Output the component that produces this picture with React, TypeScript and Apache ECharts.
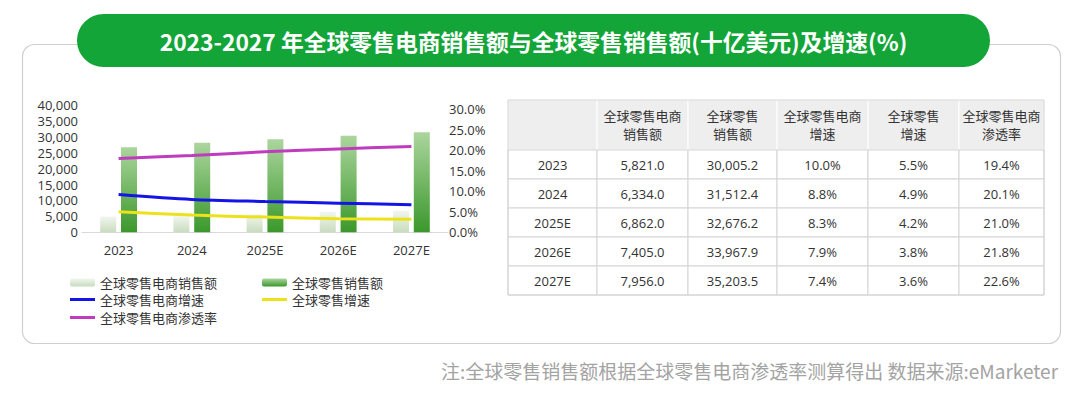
import React, { useEffect, useRef } from "react";
import * as echarts from "echarts";

// ---- data ----
const years = ["2023", "2024", "2025E", "2026E", "2027E"];
// values as drawn in the chart
const ecomSalesBar = [4900, 5100, 5650, 6450, 6800];
const retailSalesBar = [26700, 28150, 29200, 30350, 31400];
const ecomGrowthLine = [9.2, 8.0, 7.5, 7.1, 6.7];
const retailGrowthLine = [5.0, 4.2, 3.7, 3.3, 3.2];
const penetrationLine = [18.0, 18.7, 19.6, 20.3, 20.9];
// tick values
const leftTicks = [0, 5000, 10000, 15000, 20000, 25000, 30000, 35000, 40000];
const rightTicks = [0, 5, 10, 15, 20, 25, 30];
// table
const tableHeaders = [
  "全球零售电商\n销售额",
  "全球零售\n销售额",
  "全球零售电商\n增速",
  "全球零售\n增速",
  "全球零售电商\n渗透率",
];
const ecomSalesTbl = ["5,821.0", "6,334.0", "6,862.0", "7,405.0", "7,956.0"];
const retailSalesTbl = ["30,005.2", "31,512.4", "32,676.2", "33,967.9", "35,203.5"];
const ecomGrowthTbl = ["10.0%", "8.8%", "8.3%", "7.9%", "7.4%"];
const retailGrowthTbl = ["5.5%", "4.9%", "4.2%", "3.8%", "3.6%"];
const penetrationTbl = ["19.4%", "20.1%", "21.0%", "21.8%", "22.6%"];

const seriesNames = [
  "全球零售电商销售额",
  "全球零售销售额",
  "全球零售电商增速",
  "全球零售增速",
  "全球零售电商渗透率",
];
const title = "2023-2027 年全球零售电商销售额与全球零售销售额(十亿美元)及增速(%)";
const footnote = "注:全球零售销售额根据全球零售电商渗透率测算得出 数据来源:eMarketer";

const FONT = '"Open Sans", "Noto Sans CJK SC", sans-serif';
const CJK = '"Noto Sans CJK SC", sans-serif';

function buildTable(): any[] {
  const colX = [508, 597, 688, 777, 868, 959, 1044];
  const rowY = [100, 150, 179, 208, 237, 266, 295];
  const cols = [years, ecomSalesTbl, retailSalesTbl, ecomGrowthTbl, retailGrowthTbl, penetrationTbl];
  const els: any[] = [];
  for (let r = 0; r < rowY.length - 1; r++) {
    for (let c = 0; c < colX.length - 1; c++) {
      const x = colX[c], y = rowY[r], w = colX[c + 1] - colX[c], h = rowY[r + 1] - rowY[r];
      els.push({
        type: "rect",
        shape: { x, y, width: w, height: h },
        style: { fill: r === 0 ? "#eeeeee" : "#ffffff", stroke: r === 0 ? "#ffffff" : "#d4d4d4", lineWidth: 1 },
        z: 1,
      });
      let txt = "";
      if (r === 0) txt = c === 0 ? "" : tableHeaders[c - 1];
      else txt = cols[c][r - 1];
      if (txt) {
        els.push({
          type: "text",
          x: x + w / 2,
          y: y + h / 2,
          style: {
            text: txt,
            fill: "#333333",
            font: `13px ${FONT}`,
            align: "center",
            verticalAlign: "middle",
            lineHeight: 18,
          },
          z: 2,
        });
      }
    }
  }
  els.push({
    type: "rect",
    shape: { x: colX[0], y: rowY[0], width: colX[6] - colX[0], height: rowY[6] - rowY[0] },
    style: { fill: "none", stroke: "#d4d4d4", lineWidth: 1 },
    z: 3,
  });
  return els;
}

export default function App() {
  const ref = useRef<HTMLDivElement>(null);
  useEffect(() => {
    if (!ref.current) return;
    const chart = echarts.init(ref.current, null, { renderer: "svg" });
    const lightGrad = new echarts.graphic.LinearGradient(0, 0, 0, 1, [
      { offset: 0, color: "#f1f6ee" },
      { offset: 1, color: "#c8dcbe" },
    ]);
    const darkGrad = new echarts.graphic.LinearGradient(0, 0, 0, 1, [
      { offset: 0, color: "#abd59d" },
      { offset: 1, color: "#3b982c" },
    ]);
    const legendBase = {
      itemWidth: 25,
      textStyle: { fontSize: 13, color: "#333", fontFamily: CJK },
      selectedMode: false,
      padding: 0,
      itemGap: 0,
    };
    const option: any = {
      animation: false,
      backgroundColor: "#ffffff",
      textStyle: { fontFamily: FONT },
      grid: { left: 82, right: 632, top: 105, bottom: 397 - 232.3, containLabel: false },
      xAxis: {
        type: "category",
        data: years,
        axisLine: { lineStyle: { color: "#d9d9d9", width: 1 } },
        axisTick: { show: false },
        axisLabel: { color: "#333", fontSize: 13, margin: 11, fontFamily: FONT },
      },
      yAxis: [
        {
          type: "value",
          min: leftTicks[0],
          max: leftTicks[leftTicks.length - 1],
          interval: leftTicks[1] - leftTicks[0],
          splitLine: { show: false },
          axisLine: { show: false },
          axisTick: { show: false },
          axisLabel: {
            color: "#333",
            fontSize: 13,
            margin: 4,
            fontFamily: FONT,
            formatter: (v: number) => v.toLocaleString("en-US"),
          },
        },
        {
          type: "value",
          min: rightTicks[0],
          max: 31,
          interval: rightTicks[1] - rightTicks[0],
          splitLine: { show: false },
          axisLine: { show: false },
          axisTick: { show: false },
          axisLabel: {
            color: "#333",
            fontSize: 13,
            margin: 1,
            fontFamily: FONT,
            showMaxLabel: false,
            formatter: (v: number) => (rightTicks.indexOf(v) >= 0 ? v.toFixed(1) + "%" : ""),
          },
        },
      ],
      legend: [
        { ...legendBase, left: 70, top: 276, itemHeight: 8, data: [seriesNames[0]] },
        { ...legendBase, left: 262, top: 276, itemHeight: 8, data: [seriesNames[1]] },
        { ...legendBase, left: 70, top: 293, itemHeight: 3, icon: "rect", data: [seriesNames[2]] },
        { ...legendBase, left: 262, top: 293, itemHeight: 3, icon: "rect", data: [seriesNames[3]] },
        { ...legendBase, left: 70, top: 311, itemHeight: 3, icon: "rect", data: [seriesNames[4]] },
      ],
      series: [
        {
          name: seriesNames[0],
          type: "bar",
          yAxisIndex: 0,
          data: ecomSalesBar,
          barWidth: 16,
          barGap: "30%",
          itemStyle: { color: lightGrad },
        },
        {
          name: seriesNames[1],
          type: "bar",
          yAxisIndex: 0,
          data: retailSalesBar,
          barWidth: 16,
          barGap: "30%",
          itemStyle: { color: darkGrad },
        },
        {
          name: seriesNames[2],
          type: "line",
          yAxisIndex: 1,
          data: ecomGrowthLine,
          smooth: 0.3,
          symbol: "none",
          lineStyle: { color: "#1414e6", width: 3 },
          itemStyle: { color: "#1414e6" },
        },
        {
          name: seriesNames[3],
          type: "line",
          yAxisIndex: 1,
          data: retailGrowthLine,
          smooth: 0.3,
          symbol: "none",
          lineStyle: { color: "#ece21c", width: 3 },
          itemStyle: { color: "#ece21c" },
        },
        {
          name: seriesNames[4],
          type: "line",
          yAxisIndex: 1,
          data: penetrationLine,
          smooth: 0.3,
          symbol: "none",
          lineStyle: { color: "#c03cbe", width: 3 },
          itemStyle: { color: "#c03cbe" },
        },
      ],
      graphic: [
        {
          type: "rect",
          z: -10,
          silent: true,
          shape: { x: 22.5, y: 44.5, width: 1038, height: 299, r: 12 },
          style: { fill: "#ffffff", stroke: "#cfcfcf", lineWidth: 1.2 },
        },
        {
          type: "rect",
          z: 5,
          shape: { x: 77, y: 14, width: 913, height: 53, r: 26.5 },
          style: { fill: "#13a538" },
        },
        {
          type: "text",
          z: 6,
          x: 533.5,
          y: 41,
          style: {
            text: title,
            fill: "#ffffff",
            font: `bold 22.8px ${CJK}`,
            align: "center",
            verticalAlign: "middle",
          },
        },
        {
          type: "text",
          z: 6,
          x: 1058,
          y: 370,
          style: {
            text: footnote,
            fill: "#a3a3a3",
            font: `19px ${CJK}`,
            align: "right",
            verticalAlign: "middle",
          },
        },
        { type: "group", children: buildTable() },
      ],
    };
    chart.setOption(option);
    return () => chart.dispose();
  }, []);
  return (
    <div style={{ position: "fixed", left: 0, top: 0, width: 1080, height: 397, background: "#fff" }}>
      <div ref={ref} style={{ width: 1080, height: 397 }} />
    </div>
  );
}
